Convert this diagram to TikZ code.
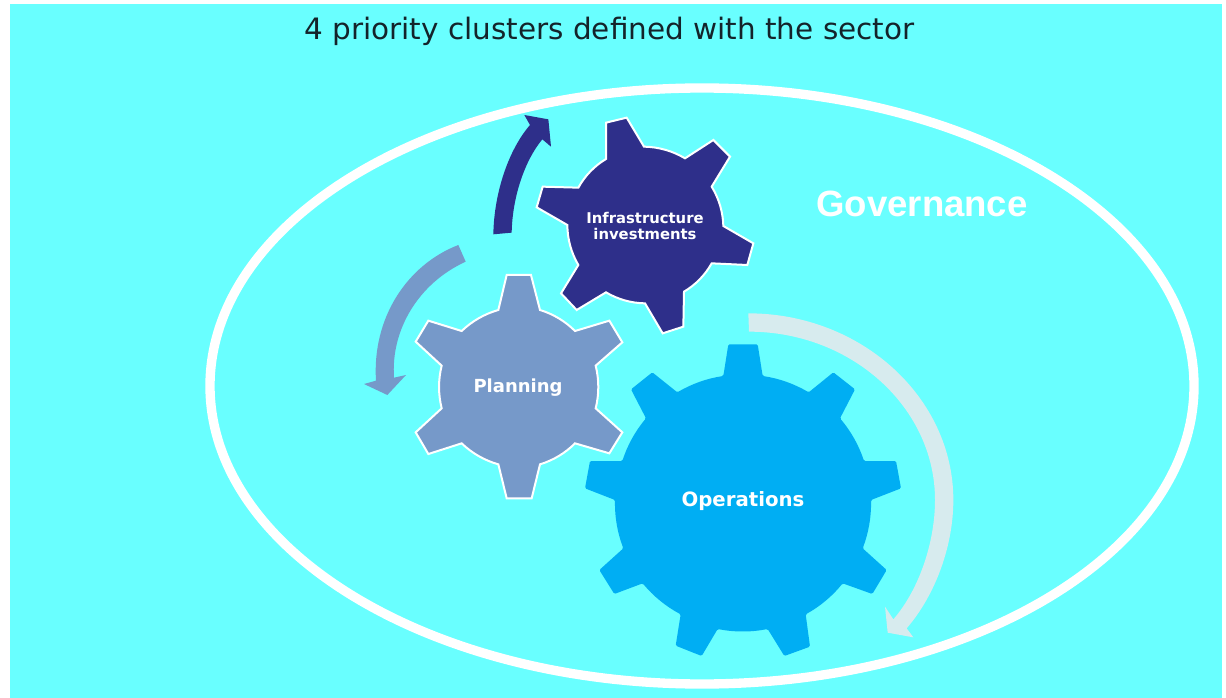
\documentclass[tikz,border=0pt]{standalone}
\usepackage{fontspec}
\setmainfont{DejaVu Sans}
\newfontfamily\govfont{Liberation Sans}
\definecolor{panelcyan}{HTML}{69FFFF}
\definecolor{infrablue}{HTML}{2E2F8A}
\definecolor{planblue}{HTML}{7699C9}
\definecolor{opsblue}{HTML}{00AEF3}
\definecolor{palearrow}{HTML}{D7EBEE}
\definecolor{titleink}{HTML}{14232A}
\tikzset{
  gearshape/.style={line join=miter,draw=white,line width=1.5pt},
  geartext/.style={text=white,font=\bfseries\fontsize{13.5pt}{14.5pt}\selectfont,align=center,inner sep=0pt},
  arrowshape/.style={draw=none},
  zoomone/.style={shift={(480,90)},x=.25pt,y=-.25pt},
  zoomtwo/.style={shift={(350,230)},x=.25pt,y=-.25pt},
  zoomthree/.style={shift={(570,300)},x=.25pt,y=-.25pt},
  arcI/.style={bend left=15,looseness=.87},
  arcP/.style={bend left=14,looseness=.87},
  arcO/.style={bend left=11,looseness=.87}
}
\begin{document}
\begin{tikzpicture}[x=.75pt,y=-.75pt]
\useasboundingbox (0,0) rectangle (1226,698);
\fill[white] (0,0) rectangle (1226,698);
\fill[panelcyan] (10,4) rectangle (1222,698);
\draw[white,line width=7pt] (702,386) ellipse [x radius=492,y radius=298];
% infrastructure arrow
\begin{scope}[zoomone]
\fill[infrablue,arrowshape] (40,433) .. controls (42,310) and (85,180) .. (150,105) -- (133,75) -- (205,88) -- (213,170) -- (187,148) .. controls (135,210) and (97,320) .. (95,428) -- cycle;
\end{scope}
% planning arrow
\begin{scope}[zoomtwo]
\fill[planblue,arrowshape] (325,45) .. controls (170,105) and (66,265) .. (78,452) -- (42,462) -- (112,495) -- (168,435) -- (132,443) .. controls (122,300) and (205,160) .. (347,95) -- cycle;
\end{scope}
% operations arrow
\begin{scope}[zoomthree]
\fill[palearrow,arrowshape] (535,40) .. controls (873,40) and (1150,292) .. (1150,600) .. controls (1150,735) and (1098,883) .. (1010,985) -- (1030,1012) -- (953,998) -- (945,920) -- (970,958) .. controls (1048,868) and (1095,725) .. (1095,600) .. controls (1095,322) and (844,95) .. (537,95) -- cycle;
\end{scope}
% operations gear
\begin{scope}[zoomthree]
\fill[opsblue,rounded corners=1pt] (475,133) -- (563,133) -- (578,228) to[arcO] (716,277) -- (790,217) -- (855,268) -- (810,355) to[arcO] (882,483) -- (978,483) -- (993,565) -- (903,600) to[arcO] (878,745) -- (950,810) -- (907,882) -- (818,850) to[arcO] (707,943) -- (720,1040) -- (643,1068) -- (593,987) to[arcO] (443,987) -- (395,1068) -- (317,1037) -- (332,943) to[arcO] (218,850) -- (133,882) -- (88,810) -- (160,745) to[arcO] (135,600) -- (45,565) -- (60,483) -- (157,483) to[arcO] (228,355) -- (183,268) -- (247,217) -- (322,277) to[arcO] (460,228) -- cycle;
\end{scope}
% planning gear
\begin{scope}[zoomtwo]
\filldraw[fill=planblue,gearshape] (470,135) -- (543,135) -- (570,240) to[arcP] (675,303) -- (778,272) -- (817,337) -- (737,407) to[arcP] (737,535) -- (817,607) -- (778,670) -- (675,640) to[arcP] (570,703) -- (545,805) -- (470,805) -- (445,703) to[arcP] (335,640) -- (235,672) -- (197,607) -- (275,535) to[arcP] (275,407) -- (197,335) -- (235,272) -- (335,303) to[arcP] (445,240) -- cycle;
\end{scope}
% infrastructure gear
\begin{scope}[zoomone]
\filldraw[fill=infrablue,gearshape] (378,98) -- (440,83) -- (492,170) to[arcI] (615,205) -- (700,150) -- (750,200) -- (695,290) to[arcI] (730,408) -- (820,460) -- (802,525) -- (695,520) to[arcI] (612,605) -- (610,710) -- (548,730) -- (495,640) to[arcI] (378,607) -- (290,660) -- (243,610) -- (295,525) to[arcI] (262,405) -- (170,352) -- (188,290) -- (295,293) to[arcI] (378,207) -- cycle;
\end{scope}
\node[text=titleink,font=\fontsize{22.1pt}{24pt}\selectfont,inner sep=0pt] (title) at (609.5,31) {4 priority clusters defined with the sector};
\node[text=white,font=\govfont\bfseries\fontsize{27.4pt}{29pt}\selectfont,inner sep=0pt] (gov) at (922,204) {Governance};
\node[geartext] (plan) at (518,388) {Planning};
\node[geartext,font=\bfseries\fontsize{14.8pt}{16pt}\selectfont] (ops) at (743,501) {Operations};
\node[geartext,font=\bfseries\fontsize{11.1pt}{12.5pt}\selectfont] (infra) at (645,226) {Infrastructure\\investments};
\end{tikzpicture}
\end{document}
